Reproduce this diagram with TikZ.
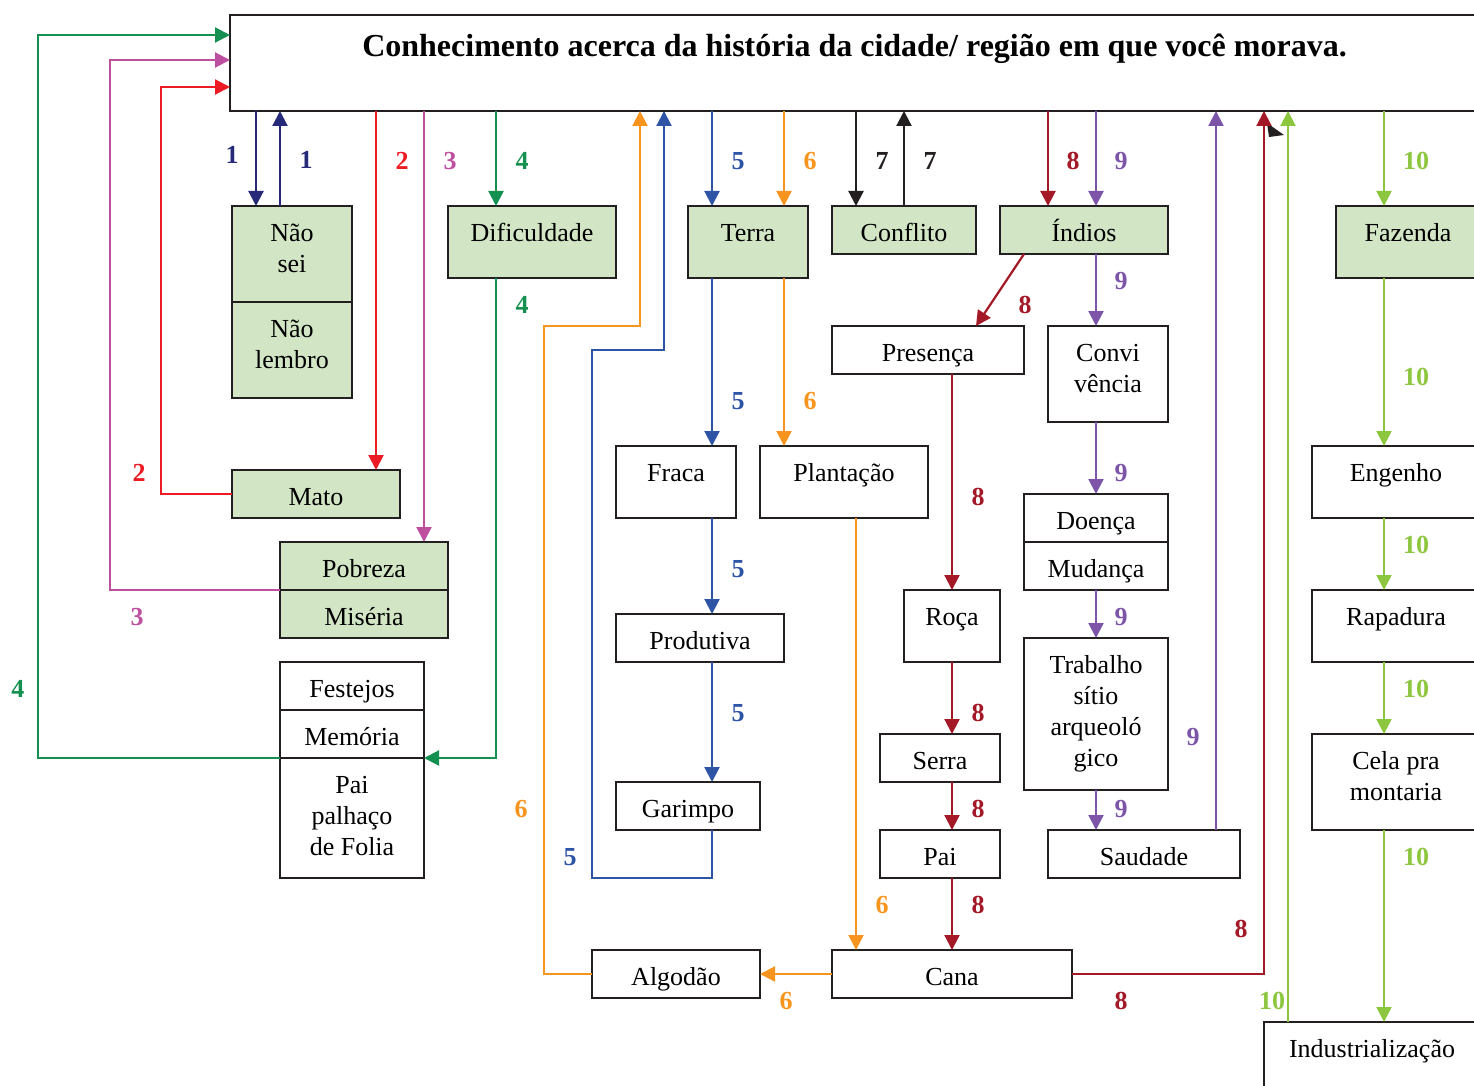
\documentclass[tikz,border=0pt]{standalone}
\usepackage{fontspec}
\setmainfont{Liberation Serif}
\usetikzlibrary{arrows.meta}
\definecolor{bx}{RGB}{35,31,32}
\definecolor{gr}{RGB}{210,229,197}
\definecolor{c1}{RGB}{38,42,120}
\definecolor{c2}{RGB}{237,28,36}
\definecolor{c3}{RGB}{190,80,160}
\definecolor{c4}{RGB}{20,145,80}
\definecolor{c5}{RGB}{46,84,166}
\definecolor{c6}{RGB}{247,148,29}
\definecolor{c7}{RGB}{35,31,32}
\definecolor{c8}{RGB}{163,25,40}
\definecolor{c9}{RGB}{125,85,168}
\definecolor{c10}{RGB}{141,198,63}
\newcommand{\lns}[1]{\begin{tabular}[t]{@{}c@{}}#1\end{tabular}}

\begin{document}
\begin{tikzpicture}[x=1pt,y=-1pt,
  box/.style={draw=bx, line width=2.3pt, inner sep=0pt, outer sep=0pt, anchor=north west, text height=35pt, font=\fontsize{26}{31}\selectfont},
  gbox/.style={box, fill=gr},
  num/.style={font=\fontsize{26}{31}\selectfont\bfseries, inner sep=0pt},
  ar/.style={line width=2.2pt, -{Triangle[length=15pt,width=15pt]}}]
\useasboundingbox (0,0) rectangle (1474,1086);

\node[box, minimum width=1249pt, text height=42pt, text depth=54pt, font=\fontsize{32}{38}\selectfont\bfseries] (title) at (230,15) {Conhecimento acerca da história da cidade/ região em que você morava.};

\node[gbox, minimum width=120pt, text depth=61pt] (nao) at (232,206) {\lns{Não\\sei}};
\node[gbox, minimum width=120pt, text depth=61pt] (lem) at (232,302) {\lns{Não\\lembro}};
\node[gbox, minimum width=168pt, text depth=13pt] (mato) at (232,470) {Mato};
\node[gbox, minimum width=168pt, text depth=13pt] (pob) at (280,542) {Pobreza};
\node[gbox, minimum width=168pt, text depth=13pt] (mis) at (280,590) {Miséria};
\node[box, minimum width=144pt, text depth=13pt] (fest) at (280,662) {Festejos};
\node[box, minimum width=144pt, text depth=13pt] (mem) at (280,710) {Memória};
\node[box, minimum width=144pt, text depth=85pt] (folia) at (280,758) {\lns{Pai\\palhaço\\de Folia}};
\node[gbox, minimum width=168pt, text depth=37pt] (dif) at (448,206) {Dificuldade};
\node[gbox, minimum width=120pt, text depth=37pt] (terra) at (688,206) {Terra};
\node[gbox, minimum width=144pt, text depth=13pt] (confl) at (832,206) {Conflito};
\node[gbox, minimum width=168pt, text depth=13pt] (ind) at (1000,206) {Índios};
\node[gbox, minimum width=144pt, text depth=37pt] (faz) at (1336,206) {Fazenda};
\node[box, minimum width=192pt, text depth=13pt] (pres) at (832,326) {Presença};
\node[box, minimum width=120pt, text depth=61pt] (conv) at (1048,326) {\lns{Convi\\vência}};
\node[box, minimum width=120pt, text depth=37pt] (fraca) at (616,446) {Fraca};
\node[box, minimum width=168pt, text depth=37pt] (plant) at (760,446) {Plantação};
\node[box, minimum width=144pt, text depth=13pt] (doe) at (1024,494) {Doença};
\node[box, minimum width=144pt, text depth=13pt] (mud) at (1024,542) {Mudança};
\node[box, minimum width=168pt, text depth=37pt] (eng) at (1312,446) {Engenho};
\node[box, minimum width=168pt, text depth=13pt] (prod) at (616,614) {Produtiva};
\node[box, minimum width=96pt, text depth=37pt] (roca) at (904,590) {Roça};
\node[box, minimum width=168pt, text depth=37pt] (rap) at (1312,590) {Rapadura};
\node[box, minimum width=144pt, text depth=117pt] (trab) at (1024,638) {\lns{Trabalho\\sítio\\arqueoló\\gico}};
\node[box, minimum width=120pt, text depth=13pt] (serra) at (880,734) {Serra};
\node[box, minimum width=168pt, text depth=61pt] (cela) at (1312,734) {\lns{Cela pra\\montaria}};
\node[box, minimum width=144pt, text depth=13pt] (gar) at (616,782) {Garimpo};
\node[box, minimum width=120pt, text depth=13pt] (pai) at (880,830) {Pai};
\node[box, minimum width=192pt, text depth=13pt] (saud) at (1048,830) {Saudade};
\node[box, minimum width=168pt, text depth=13pt] (alg) at (592,950) {Algodão};
\node[box, minimum width=240pt, text depth=13pt] (cana) at (832,950) {Cana};
\node[box, minimum width=216pt, text depth=55pt] (indus) at (1264,1022) {Industrialização};

\draw[ar,c1] (title.south -| 256,0) -- (nao.north -| 256,0);
\draw[ar,c1] (nao.north -| 280,0) -- (title.south -| 280,0);

\draw[ar,c2] (title.south -| 376,0) -- (mato.north -| 376,0);
\draw[ar,c2] (mato.west) -| (161,87) -- (title.west |- 0,87);

\draw[ar,c3] (title.south -| 424,0) -- (pob.north -| 424,0);
\draw[ar,c3] (pob.south west) -| (110,60) -- (title.west |- 0,60);

\draw[ar,c4] (title.south -| 496,0) -- (dif.north -| 496,0);
\draw[ar,c4] (dif.south -| 496,0) |- (mem.south east);
\draw[ar,c4] (mem.south west) -| (38,35) -- (title.west |- 0,35);

\draw[ar,c5] (title.south -| 712,0) -- (terra.north -| 712,0);
\draw[ar,c5] (terra.south -| 712,0) -- (fraca.north -| 712,0);
\draw[ar,c5] (fraca.south -| 712,0) -- (prod.north -| 712,0);
\draw[ar,c5] (prod.south -| 712,0) -- (gar.north -| 712,0);
\draw[ar,c5] (gar.south -| 712,0) -- (712,878) -| (592,350) -| (title.south -| 664,0);

\draw[ar,c6] (title.south -| 784,0) -- (terra.north -| 784,0);
\draw[ar,c6] (terra.south -| 784,0) -- (plant.north -| 784,0);
\draw[ar,c6] (plant.south -| 856,0) -- (cana.north -| 856,0);
\draw[ar,c6] (cana.west) -- (alg.east);
\draw[ar,c6] (alg.west) -| (544,326) -| (title.south -| 640,0);

\draw[ar,c7] (title.south -| 856,0) -- (confl.north -| 856,0);
\draw[ar,c7] (confl.north -| 904,0) -- (title.south -| 904,0);
\fill[c7] (1267,123) -- (1284,135) -- (1269,137) -- cycle;

\draw[ar,c8] (title.south -| 1048,0) -- (ind.north -| 1048,0);
\draw[ar,c8] (ind.south -| 1024,0) -- (pres.north -| 976,0);
\draw[ar,c8] (pres.south -| 952,0) -- (roca.north -| 952,0);
\draw[ar,c8] (roca.south -| 952,0) -- (serra.north -| 952,0);
\draw[ar,c8] (serra.south -| 952,0) -- (pai.north -| 952,0);
\draw[ar,c8] (pai.south -| 952,0) -- (cana.north -| 952,0);
\draw[ar,c8] (cana.east) -| (title.south -| 1264,0);

\draw[ar,c9] (title.south -| 1096,0) -- (ind.north -| 1096,0);
\draw[ar,c9] (ind.south -| 1096,0) -- (conv.north -| 1096,0);
\draw[ar,c9] (conv.south -| 1096,0) -- (doe.north -| 1096,0);
\draw[ar,c9] (mud.south -| 1096,0) -- (trab.north -| 1096,0);
\draw[ar,c9] (trab.south -| 1096,0) -- (saud.north -| 1096,0);
\draw[ar,c9] (saud.north -| 1216,0) -- (title.south -| 1216,0);

\draw[ar,c10] (title.south -| 1384,0) -- (faz.north -| 1384,0);
\draw[ar,c10] (faz.south -| 1384,0) -- (eng.north -| 1384,0);
\draw[ar,c10] (eng.south -| 1384,0) -- (rap.north -| 1384,0);
\draw[ar,c10] (rap.south -| 1384,0) -- (cela.north -| 1384,0);
\draw[ar,c10] (cela.south -| 1384,0) -- (indus.north -| 1384,0);
\draw[ar,c10] (indus.north -| 1288,0) -- (title.south -| 1288,0);

\node[num,c1] (k1a) at (232,155) {1};
\node[num,c1] (k1b) at (306,160) {1};
\node[num,c2] (k2a) at (402,161) {2};
\node[num,c2] (k2b) at (139,473) {2};
\node[num,c3] (k3a) at (450,161) {3};
\node[num,c3] (k3b) at (137,617) {3};
\node[num,c4] (k4a) at (522,161) {4};
\node[num,c4] (k4b) at (522,305) {4};
\node[num,c4] (k4c) at (18,689) {4};
\node[num,c5] (k5a) at (738,161) {5};
\node[num,c5] (k5b) at (738,401) {5};
\node[num,c5] (k5c) at (738,569) {5};
\node[num,c5] (k5d) at (738,713) {5};
\node[num,c5] (k5e) at (570,857) {5};
\node[num,c6] (k6a) at (810,161) {6};
\node[num,c6] (k6b) at (810,401) {6};
\node[num,c6] (k6c) at (882,905) {6};
\node[num,c6] (k6d) at (786,1001) {6};
\node[num,c6] (k6e) at (521,809) {6};
\node[num,c7] (k7a) at (882,161) {7};
\node[num,c7] (k7b) at (930,161) {7};
\node[num,c8] (k8a) at (1073,161) {8};
\node[num,c8] (k8b) at (1025,305) {8};
\node[num,c8] (k8c) at (978,497) {8};
\node[num,c8] (k8d) at (978,713) {8};
\node[num,c8] (k8e) at (978,809) {8};
\node[num,c8] (k8f) at (978,905) {8};
\node[num,c8] (k8g) at (1241,929) {8};
\node[num,c8] (k8h) at (1121,1001) {8};
\node[num,c9] (k9a) at (1121,161) {9};
\node[num,c9] (k9b) at (1121,281) {9};
\node[num,c9] (k9c) at (1121,473) {9};
\node[num,c9] (k9d) at (1121,617) {9};
\node[num,c9] (k9e) at (1121,809) {9};
\node[num,c9] (k9f) at (1193,737) {9};
\node[num,c10] (k10a) at (1416,161) {10};
\node[num,c10] (k10b) at (1416,377) {10};
\node[num,c10] (k10c) at (1416,545) {10};
\node[num,c10] (k10d) at (1416,689) {10};
\node[num,c10] (k10e) at (1416,857) {10};
\node[num,c10] (k10f) at (1272,1001) {10};
\end{tikzpicture}
\end{document}
